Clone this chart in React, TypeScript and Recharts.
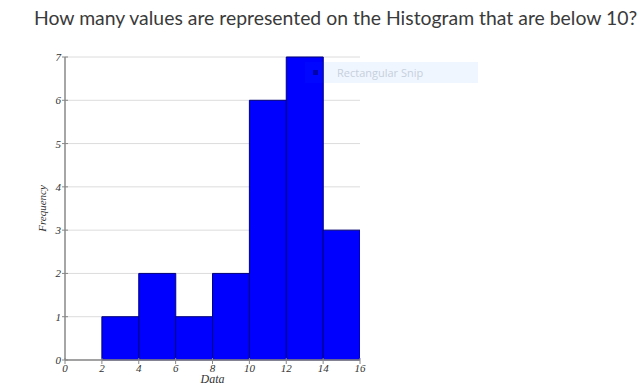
import React from "react";
import { Bar, BarChart, CartesianGrid, XAxis, YAxis, Label } from "recharts";

// bin centres (bins are 2 wide, 0-2 ... 14-16)
const binCentres = [1, 3, 5, 7, 9, 11, 13, 15];
const frequencies = [0, 1, 2, 1, 2, 6, 7, 3];
const xTicks = [0, 2, 4, 6, 8, 10, 12, 14, 16];
const yTicks = [0, 1, 2, 3, 4, 5, 6, 7];

const data = binCentres.map((x, i) => ({ x, count: frequencies[i] }));

const tickFont = {
    fontFamily: "'Liberation Serif', 'DejaVu Serif', serif",
    fontStyle: "italic",
    fontSize: 11,
    fill: "#333",
};

const YTick = ({ x, y, payload }: any) => (
    <g>
        <line x1={x - 3} x2={x + 3} y1={y} y2={y} stroke="#888" strokeWidth={1} />
        <text x={x - 4} y={y + 4} textAnchor="end" {...tickFont}>
            {payload.value}
        </text>
    </g>
);

const XTick = ({ x, y, payload }: any) => (
    <g>
        <line x1={x} x2={x} y1={y - 2} y2={y + 4} stroke="#888" strokeWidth={1} />
        <text x={x} y={y + 12} textAnchor="middle" {...tickFont}>
            {payload.value}
        </text>
    </g>
);

const YLabel = ({ viewBox }: any) => {
    const cx = viewBox.x + 7;
    const cy = viewBox.y + viewBox.height / 2;
    return (
        <text
            x={cx}
            y={cy}
            transform={`rotate(-90, ${cx}, ${cy})`}
            textAnchor="middle"
            dominantBaseline="central"
            {...tickFont}
        >
            Frequency
        </text>
    );
};

export default function App() {
    return (
        <div style={{ position: "absolute", left: 0, top: 0, width: 643, height: 387, background: "#fff" }}>
            <div
                style={{
                    position: "absolute",
                    left: 34,
                    top: 6,
                    fontFamily: "Lato, sans-serif",
                    fontSize: 19.4,
                    color: "#3a3a3a",
                    whiteSpace: "nowrap",
                }}
            >
                How many values are represented on the Histogram that are below 10?
            </div>
            <BarChart
                width={643}
                height={387}
                data={data}
                barCategoryGap={0}
                barGap={0}
                margin={{ top: 57, right: 283, bottom: 0, left: 35 }}
            >
                <CartesianGrid vertical={false} stroke="#dcdcdc" />
                <XAxis
                    dataKey="x"
                    type="number"
                    domain={[0, 16]}
                    ticks={xTicks}
                    height={27}
                    tickSize={0}
                    tickMargin={0}
                    tickLine={false}
                    tick={<XTick />}
                    axisLine={{ stroke: "#888", strokeWidth: 1.5 }}
                    interval={0}
                    allowDataOverflow
                >
                    <Label
                        value="Data"
                        position="insideBottom"
                        offset={4}
                        style={{ ...tickFont, fontSize: 12 }}
                    />
                </XAxis>
                <YAxis
                    domain={[0, 7]}
                    ticks={yTicks}
                    width={30}
                    tickSize={0}
                    tickMargin={0}
                    tickLine={false}
                    tick={<YTick />}
                    axisLine={{ stroke: "#888", strokeWidth: 1.5 }}
                    interval={0}
                >
                    <Label content={<YLabel />} />
                </YAxis>
                <Bar
                    dataKey="count"
                    fill="#0000ff"
                    stroke="#00007a"
                    strokeWidth={1}
                    isAnimationActive={false}
                />
            </BarChart>
            <div
                style={{
                    position: "absolute",
                    left: 305,
                    top: 62,
                    width: 173,
                    height: 21,
                    background: "rgba(0, 100, 255, 0.06)",
                }}
            >
                <div
                    style={{
                        position: "absolute",
                        left: 8,
                        top: 8,
                        width: 5,
                        height: 5,
                        background: "rgba(0, 0, 90, 0.5)",
                    }}
                />
                <div
                    style={{
                        position: "absolute",
                        left: 32,
                        top: 3,
                        fontFamily: "'Open Sans', sans-serif",
                        fontSize: 11,
                        color: "#c6d0dc",
                        whiteSpace: "nowrap",
                    }}
                >
                    Rectangular Snip
                </div>
            </div>
        </div>
    );
}
